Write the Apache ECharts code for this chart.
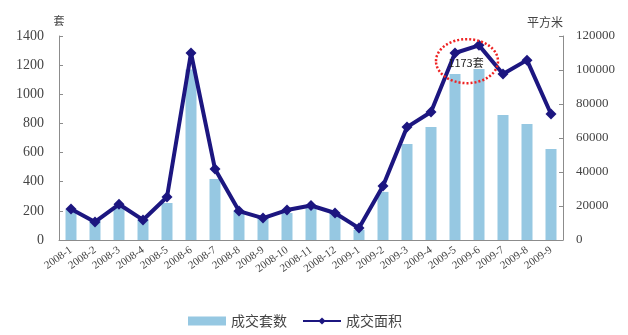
<!DOCTYPE html>
<html>
<head>
<meta charset="utf-8">
<script src="https://cdn.jsdelivr.net/npm/echarts@6/dist/echarts.min.js"></script>
<style>
  html, body { margin: 0; padding: 0; background: #fff; }
  #chart { width: 628px; height: 335px; }
</style>
</head>
<body>
<div id="chart"></div>
<script>
// Monthly transactions: units sold (套) and floor area sold (平方米)
const categories = [
  '2008-1', '2008-2', '2008-3', '2008-4', '2008-5', '2008-6', '2008-7',
  '2008-8', '2008-9', '2008-10', '2008-11', '2008-12',
  '2009-1', '2009-2', '2009-3', '2009-4', '2009-5', '2009-6', '2009-7',
  '2009-8', '2009-9'
];
const unitsSold = [
  210, 140, 232, 140, 254, 1170, 419,
  200, 160, 185, 218, 190,
  70, 330, 659, 775, 1140, 1173, 858,
  796, 625
];
const areaSold = [
  18200, 10600, 21000, 11800, 25300, 110000, 41700,
  17000, 12900, 17600, 20300, 15900,
  7000, 31800, 66400, 75300, 110000, 114500, 97600,
  105800, 74100
];
const leftTicks = { min: 0, max: 1400, interval: 200 };
const rightTicks = { min: 0, max: 120000, interval: 20000 };
const calloutText = '1173套';

const chart = echarts.init(document.getElementById('chart'));
const serif = 'Liberation Serif';
const cjk = 'Noto Sans CJK SC';
const plain = v => String(v);

chart.setOption({
  animation: false,
  backgroundColor: '#ffffff',
  grid: { left: 59, right: 65, top: 36, bottom: 95 },
  legend: {
    bottom: 2,
    left: 183,
    itemGap: 15,
    itemWidth: 38,
    itemHeight: 9,
    textStyle: { fontFamily: cjk, fontSize: 14, color: '#444' },
    data: [
      { name: '成交套数', icon: 'rect' },
      { name: '成交面积' }
    ]
  },
  xAxis: {
    type: 'category',
    data: categories,
    axisLine: { lineStyle: { color: '#8c8c8c', width: 1 } },
    axisTick: { inside: true, length: 4, lineStyle: { color: '#8c8c8c' } },
    axisLabel: {
      interval: 0,
      rotate: 35,
      margin: 9,
      fontFamily: serif,
      fontSize: 11,
      color: '#444'
    }
  },
  yAxis: [
    {
      type: 'value',
      name: '套',
      nameGap: 10,
      nameTextStyle: { fontFamily: cjk, fontSize: 11, color: '#444', align: 'center' },
      min: leftTicks.min, max: leftTicks.max, interval: leftTicks.interval,
      axisLine: { show: true, lineStyle: { color: '#8c8c8c' } },
      axisTick: { show: true, inside: true, length: 4, lineStyle: { color: '#8c8c8c' } },
      splitLine: { show: false },
      axisLabel: { fontFamily: serif, fontSize: 14, color: '#444', margin: 15, formatter: plain }
    },
    {
      type: 'value',
      name: '平方米',
      nameGap: 8,
      nameTextStyle: { fontFamily: cjk, fontSize: 12, color: '#444', align: 'right' },
      min: rightTicks.min, max: rightTicks.max, interval: rightTicks.interval,
      axisLine: { show: true, lineStyle: { color: '#8c8c8c' } },
      axisTick: { show: true, inside: true, length: 4, lineStyle: { color: '#8c8c8c' } },
      splitLine: { show: false },
      axisLabel: { fontFamily: serif, fontSize: 13, color: '#444', margin: 13, formatter: plain }
    }
  ],
  series: [
    {
      name: '成交套数',
      type: 'bar',
      yAxisIndex: 0,
      data: unitsSold,
      barWidth: 11,
      itemStyle: { color: '#96c8e2' }
    },
    {
      name: '成交面积',
      type: 'line',
      yAxisIndex: 1,
      data: areaSold,
      symbol: 'diamond',
      symbolSize: 11,
      lineStyle: { color: '#1c1680', width: 4 },
      itemStyle: { color: '#1c1680' }
    }
  ]
});

// Dotted red callout ring around the two 2009 peaks, with its label
const p5 = chart.convertToPixel({ xAxisIndex: 0, yAxisIndex: 1 }, ['2009-5', areaSold[16]]);
const p6 = chart.convertToPixel({ xAxisIndex: 0, yAxisIndex: 1 }, ['2009-6', areaSold[17]]);
const cx = (p5[0] + p6[0]) / 2;
const cy = (p5[1] + p6[1]) / 2 + 12;
chart.setOption({
  graphic: [
    {
      type: 'ellipse',
      shape: { cx: cx, cy: cy, rx: 31, ry: 22 },
      style: { fill: 'none', stroke: '#ee2222', lineWidth: 2.5, lineDash: [2, 2] },
      z: 100
    },
    {
      type: 'text',
      x: cx - 1,
      y: cy + 2,
      style: {
        text: calloutText,
        fontFamily: cjk,
        fontSize: 11,
        fill: '#222',
        align: 'center',
        verticalAlign: 'middle'
      },
      z: 101
    }
  ]
});
</script>
</body>
</html>
